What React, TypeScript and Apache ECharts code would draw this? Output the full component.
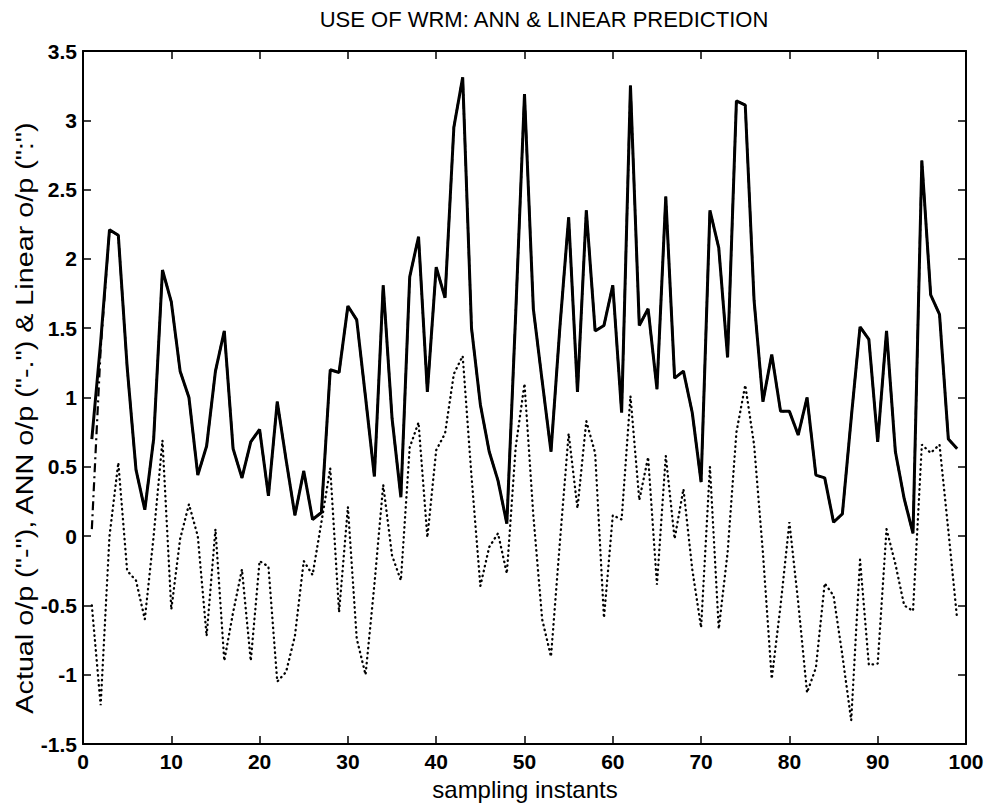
import React, { useEffect, useRef } from "react";
import * as echarts from "echarts";

// sampling instants 1..99
const samples: number[] = Array.from({ length: 99 }, (_, i) => i + 1);

// Actual output (solid)
const actualOut: number[] = [
  0.70, 1.40, 2.21, 2.17, 1.22, 0.48, 0.19, 0.70, 1.92, 1.69,
  1.19, 1.00, 0.44, 0.65, 1.19, 1.48, 0.63, 0.42, 0.68, 0.77,
  0.29, 0.97, 0.55, 0.15, 0.47, 0.12, 0.17, 1.20, 1.18, 1.66,
  1.56, 1.00, 0.43, 1.81, 0.85, 0.28, 1.87, 2.16, 1.04, 1.94,
  1.72, 2.95, 3.31, 1.50, 0.95, 0.61, 0.40, 0.09, 1.60, 3.19,
  1.64, 1.12, 0.61, 1.50, 2.30, 1.04, 2.35, 1.48, 1.52, 1.81,
  0.89, 3.25, 1.52, 1.64, 1.06, 2.45, 1.14, 1.19, 0.89, 0.39,
  2.35, 2.08, 1.29, 3.14, 3.11, 1.70, 0.97, 1.31, 0.90, 0.90,
  0.73, 1.00, 0.44, 0.42, 0.10, 0.16, 0.85, 1.51, 1.42, 0.68,
  1.48, 0.61, 0.27, 0.02, 2.71, 1.74, 1.60, 0.70, 0.63,
];

// ANN output (dash-dot) – coincides with actual except at the start
const annOut: number[] = [
  0.05, 1.35, 2.21, 2.17, 1.22, 0.48, 0.19, 0.70, 1.92, 1.69,
  1.19, 1.00, 0.44, 0.65, 1.19, 1.48, 0.63, 0.42, 0.68, 0.77,
  0.29, 0.97, 0.55, 0.15, 0.47, 0.12, 0.17, 1.20, 1.18, 1.66,
  1.56, 1.00, 0.43, 1.81, 0.85, 0.28, 1.87, 2.16, 1.04, 1.94,
  1.72, 2.95, 3.31, 1.50, 0.95, 0.61, 0.40, 0.09, 1.60, 3.19,
  1.64, 1.12, 0.61, 1.50, 2.30, 1.04, 2.35, 1.48, 1.52, 1.81,
  0.89, 3.25, 1.52, 1.64, 1.06, 2.45, 1.14, 1.19, 0.89, 0.39,
  2.35, 2.08, 1.29, 3.14, 3.11, 1.70, 0.97, 1.31, 0.90, 0.90,
  0.73, 1.00, 0.44, 0.42, 0.10, 0.16, 0.85, 1.51, 1.42, 0.68,
  1.48, 0.61, 0.27, 0.02, 2.71, 1.74, 1.60, 0.70, 0.63,
];

// Linear prediction output (dotted)
const linearOut: number[] = [
  -0.50, -1.22, 0.00, 0.53, -0.25, -0.32, -0.60, 0.00, 0.69, -0.53,
  -0.02, 0.23, 0.00, -0.72, 0.05, -0.90, -0.55, -0.24, -0.90, -0.18,
  -0.22, -1.05, -0.98, -0.72, -0.18, -0.28, 0.10, 0.49, -0.55, 0.21,
  -0.74, -1.00, -0.35, 0.37, -0.14, -0.32, 0.64, 0.82, -0.01, 0.62,
  0.74, 1.17, 1.30, 0.43, -0.36, -0.08, 0.02, -0.27, 0.64, 1.10,
  0.15, -0.60, -0.87, -0.05, 0.74, 0.20, 0.83, 0.60, -0.59, 0.15,
  0.12, 1.01, 0.26, 0.57, -0.35, 0.58, -0.02, 0.34, -0.24, -0.66,
  0.50, -0.67, -0.12, 0.75, 1.09, 0.66, -0.12, -1.03, -0.50, 0.10,
  -0.48, -1.13, -0.95, -0.34, -0.43, -0.86, -1.33, -0.17, -0.93, -0.92,
  0.05, -0.20, -0.50, -0.54, 0.66, 0.60, 0.66, 0.04, -0.60,
];

const titleText = "USE OF WRM: ANN & LINEAR PREDICTION";
const xName = "sampling instants";
const yName = 'Actual o/p ("-"), ANN o/p ("-.") & Linear o/p (":")';

const FONT = '"Liberation Sans", Arial, Helvetica, sans-serif';

export default function App() {
  const ref = useRef<HTMLDivElement>(null);
  useEffect(() => {
    if (!ref.current) return;
    const chart = echarts.init(ref.current, undefined, { renderer: "svg" });
    const pairs = (ys: number[]) => samples.map((x, i) => [x, ys[i]]);
    const axisCommon = {
      axisLine: { show: true, onZero: false, lineStyle: { color: "#000", width: 2 } },
      axisTick: { show: true, inside: true, length: 8, lineStyle: { color: "#000", width: 1.5 } },
      splitLine: { show: false },
    };
    chart.setOption({
      animation: false,
      backgroundColor: "#fff",
      grid: { left: 83, right: 29, top: 51, bottom: 59 },
      xAxis: [
        {
          type: "value", min: 0, max: 100, interval: 10, position: "bottom",
          ...axisCommon,
          axisLabel: { color: "#000", fontSize: 21, fontWeight: "bold", fontFamily: FONT, margin: 7 },
        },
        {
          type: "value", min: 0, max: 100, interval: 10, position: "top",
          ...axisCommon,
          axisLabel: { show: false },
        },
      ],
      yAxis: [
        {
          type: "value", min: -1.5, max: 3.5, interval: 0.5, position: "left",
          ...axisCommon,
          axisLabel: { color: "#000", fontSize: 21, fontWeight: "bold", fontFamily: FONT, margin: 6 },
        },
        {
          type: "value", min: -1.5, max: 3.5, interval: 0.5, position: "right",
          ...axisCommon,
          axisLabel: { show: false },
        },
      ],
      series: [
        {
          name: "Linear o/p",
          type: "line",
          data: pairs(linearOut),
          showSymbol: false,
          lineStyle: { color: "#000", width: 2.3, type: [0.5, 4.5], cap: "round" },
        },
        {
          name: "ANN o/p",
          type: "line",
          data: pairs(annOut),
          showSymbol: false,
          lineStyle: { color: "#000", width: 2.2, type: [9, 4, 2, 4] },
        },
        {
          name: "Actual o/p",
          type: "line",
          data: pairs(actualOut),
          showSymbol: false,
          lineStyle: { color: "#000", width: 3 },
        },
      ],
      graphic: [
        {
          type: "text", x: 544, y: 19,
          style: { text: titleText, font: `22px ${FONT}`, fill: "#000", textAlign: "center", textVerticalAlign: "middle" },
        },
        {
          type: "text", x: 525, y: 789,
          style: { text: xName, font: `24px ${FONT}`, fill: "#000", textAlign: "center", textVerticalAlign: "middle" },
        },
        {
          type: "text", x: 25, y: 418, rotation: Math.PI / 2, scaleX: 1.25,
          style: { text: yName, font: `23px ${FONT}`, fill: "#000", textAlign: "center", textVerticalAlign: "middle" },
        },
      ],
    });
    return () => chart.dispose();
  }, []);
  return (
    <div
      ref={ref}
      style={{ position: "fixed", left: 0, top: 0, width: 995, height: 803, background: "#fff" }}
    />
  );
}
